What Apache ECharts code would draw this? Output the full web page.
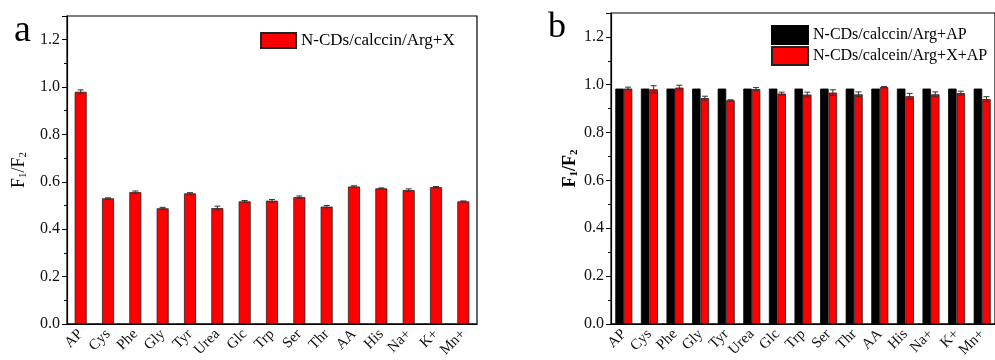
<!DOCTYPE html>
<html>
<head>
	<meta charset="utf-8">
	<title></title>
</head>
<body style="margin: 0; background: #fff">
<div id="container" style="width: 995px; height: 360px"></div>

<script src="https://cdn.jsdelivr.net/npm/echarts@6/dist/echarts.min.js"></script>
<script type="text/javascript">
	var categories = ['AP', 'Cys', 'Phe', 'Gly', 'Tyr', 'Urea', 'Glc', 'Trp', 'Ser', 'Thr', 'AA', 'His', 'Na+', 'K+', 'Mn+'];

	// panel a
	var aValues = [0.980, 0.530, 0.556, 0.488, 0.551, 0.489, 0.517, 0.520, 0.535, 0.495, 0.580, 0.572, 0.565, 0.577, 0.517];
	var aErrors = [0.008, 0.002, 0.005, 0.004, 0.003, 0.008, 0.004, 0.005, 0.005, 0.005, 0.003, 0.002, 0.005, 0.003, 0.002];

	// panel b
	var bBlack = [0.984, 0.984, 0.984, 0.984, 0.984, 0.984, 0.984, 0.984, 0.984, 0.984, 0.984, 0.984, 0.984, 0.984, 0.984];
	var bBlackErr = [0, 0, 0, 0, 0, 0, 0, 0, 0, 0, 0, 0, 0, 0, 0];
	var bRed = [0.984, 0.981, 0.988, 0.944, 0.935, 0.982, 0.963, 0.959, 0.967, 0.960, 0.990, 0.952, 0.960, 0.965, 0.940];
	var bRedErr = [0.006, 0.015, 0.010, 0.008, 0.002, 0.006, 0.006, 0.010, 0.012, 0.010, 0.003, 0.012, 0.010, 0.008, 0.010];

	var serif = 'Liberation Serif';

	function errData(vals, errs) {
		return vals.map(function (v, i) { return [i, v, errs[i]]; });
	}

	function errRender(dx) {
		return function (params, api) {
			var x = api.value(0), y = api.value(1), e = api.value(2);
			if (!e) return null;
			var hi = api.coord([x, y + e]);
			var lo = api.coord([x, y - e]);
			var cx = hi[0] + dx;
			var style = { stroke: '#333', lineWidth: 1 };
			return {
				type: 'group',
				children: [
					{ type: 'line', shape: { x1: cx, y1: hi[1], x2: cx, y2: lo[1] }, style: style },
					{ type: 'line', shape: { x1: cx - 3, y1: hi[1], x2: cx + 3, y2: hi[1] }, style: style },
					{ type: 'line', shape: { x1: cx - 3, y1: lo[1], x2: cx + 3, y2: lo[1] }, style: style }
				]
			};
		};
	}

	function xMain(g) {
		return {
			type: 'category', gridIndex: g, data: categories,
			axisLine: { lineStyle: { color: '#000', width: 1.2 } },
			axisTick: { alignWithLabel: true, interval: 0, length: 5, lineStyle: { color: '#000' } },
			axisLabel: { interval: 0, rotate: 45, fontFamily: serif, fontSize: 15, color: '#111', margin: 8 }
		};
	}
	function xMinor(g) {
		return {
			type: 'category', gridIndex: g, data: categories, position: 'bottom',
			axisLine: { show: false },
			axisTick: { interval: 0, length: 3, lineStyle: { color: '#000' } },
			axisLabel: { show: false }
		};
	}
	function yAxis(g, gap, bold) {
		return {
			type: 'value', gridIndex: g, min: 0, max: 1.3, interval: 0.2,
			name: '{f|F}{s|1}{f|/F}{s|2}', nameLocation: 'middle', nameGap: gap, nameRotate: 90,
			nameTextStyle: {
				rich: {
					f: { fontFamily: serif, fontSize: 18, fontWeight: bold ? 'bold' : 'normal', color: '#000' },
					s: { fontFamily: serif, fontSize: 11, fontWeight: bold ? 'bold' : 'normal', color: '#000', verticalAlign: 'bottom', padding: [9, 0, 0, 0] }
				}
			},
			splitLine: { show: false },
			axisLine: { show: true, lineStyle: { color: '#000', width: 1.2 } },
			axisTick: { show: true, length: 5, lineStyle: { color: '#000' } },
			minorTick: { show: true, splitNumber: 2, length: 3, lineStyle: { color: '#000' } },
			axisLabel: {
				showMaxLabel: false, fontFamily: serif, fontSize: 16, color: '#111', margin: 7,
				formatter: function (v) { return v.toFixed(1); }
			}
		};
	}

	var dom = document.getElementById('container');
	var myChart = echarts.init(dom, null, { renderer: 'canvas' });

	var option = {
		animation: false,
		grid: [
			{ left: 67, top: 16, width: 410, height: 312, show: true, borderColor: '#000', borderWidth: 1.2, backgroundColor: 'transparent' },
			{ left: 611, top: 13, width: 390, height: 318, show: true, borderColor: '#000', borderWidth: 1.2, backgroundColor: 'transparent' }
		],
		xAxis: [xMain(0), xMain(1), xMinor(0), xMinor(1)],
		yAxis: [yAxis(0, 38, false), yAxis(1, 20, true)],
		legend: [
			{
				left: 255, top: 27, itemWidth: 35, itemHeight: 15, itemGap: 2, icon: 'rect',
				data: ['N-CDs/calccin/Arg+X'],
				textStyle: { fontFamily: serif, fontSize: 17, color: '#000' }
			},
			{
				left: 766, top: 20, orient: 'vertical', itemWidth: 36, itemHeight: 18, itemGap: 1, icon: 'rect',
				data: ['N-CDs/calccin/Arg+AP', 'N-CDs/calcein/Arg+X+AP'],
				textStyle: { fontFamily: serif, fontSize: 16, color: '#000' }
			}
		],
		graphic: [
			{ type: 'text', left: 14, top: 12, style: { text: 'a', font: '38px "Liberation Serif"', fill: '#000' } },
			{ type: 'text', left: 548, top: 10, style: { text: 'b', font: '36px "Liberation Serif"', fill: '#000' } }
		],
		series: [
			{
				name: 'N-CDs/calccin/Arg+X', type: 'bar', xAxisIndex: 0, yAxisIndex: 0,
				barWidth: 12, data: aValues,
				itemStyle: { color: '#ff0000', borderColor: '#222', borderWidth: 0.8 }
			},
			{
				type: 'custom', xAxisIndex: 0, yAxisIndex: 0, z: 5,
				renderItem: errRender(0), data: errData(aValues, aErrors), encode: { x: 0, y: 1 }
			},
			{
				name: 'N-CDs/calccin/Arg+AP', type: 'bar', xAxisIndex: 1, yAxisIndex: 1,
				barWidth: 8.5, barGap: 0, data: bBlack,
				itemStyle: { color: '#000', borderColor: '#000', borderWidth: 0.8 }
			},
			{
				name: 'N-CDs/calcein/Arg+X+AP', type: 'bar', xAxisIndex: 1, yAxisIndex: 1,
				barWidth: 8.5, barGap: 0, data: bRed,
				itemStyle: { color: '#ff0000', borderColor: '#222', borderWidth: 0.8 }
			},
			{
				type: 'custom', xAxisIndex: 1, yAxisIndex: 1, z: 5,
				renderItem: errRender(-4.25), data: errData(bBlack, bBlackErr), encode: { x: 0, y: 1 }
			},
			{
				type: 'custom', xAxisIndex: 1, yAxisIndex: 1, z: 5,
				renderItem: errRender(4.25), data: errData(bRed, bRedErr), encode: { x: 0, y: 1 }
			}
		]
	};

	myChart.setOption(option);
	window.addEventListener('resize', myChart.resize);
</script>
</body>
</html>
